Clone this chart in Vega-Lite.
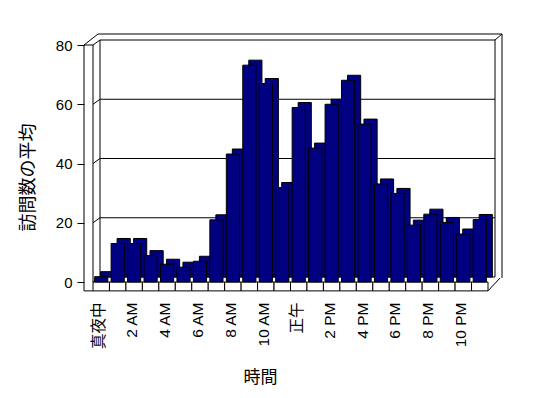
{
  "$schema": "https://vega.github.io/schema/vega-lite/v6.json",
  "width": 395,
  "height": 237,
  "autosize": {"type": "none"},
  "padding": {"left": 93, "top": 45, "right": 60, "bottom": 116},
  "background": "white",
  "config": {
    "view": {"stroke": null},
    "font": "Liberation Sans",
    "axis": {"labelColor": "black", "titleColor": "black", "labelFont": "Liberation Sans, Noto Sans CJK JP", "titleFont": "Noto Sans CJK JP", "titleFontWeight": "normal"}
  },
  "datasets": {
    "visits": [
      {"label": "真夜中", "avg": 1.8},
      {"label": "1 AM", "avg": 13.0},
      {"label": "2 AM", "avg": 13.0},
      {"label": "3 AM", "avg": 8.9},
      {"label": "4 AM", "avg": 6.0},
      {"label": "5 AM", "avg": 5.0},
      {"label": "6 AM", "avg": 7.0},
      {"label": "7 AM", "avg": 21.0},
      {"label": "8 AM", "avg": 43.2},
      {"label": "9 AM", "avg": 73.2},
      {"label": "10 AM", "avg": 67.0},
      {"label": "11 AM", "avg": 31.9},
      {"label": "正午", "avg": 58.9},
      {"label": "1 PM", "avg": 45.2},
      {"label": "2 PM", "avg": 60.0},
      {"label": "3 PM", "avg": 68.1},
      {"label": "4 PM", "avg": 53.3},
      {"label": "5 PM", "avg": 33.1},
      {"label": "6 PM", "avg": 29.9},
      {"label": "7 PM", "avg": 19.2},
      {"label": "8 PM", "avg": 22.9},
      {"label": "9 PM", "avg": 20.1},
      {"label": "10 PM", "avg": 16.2},
      {"label": "11 PM", "avg": 21.1}
    ],
    "grid": [{"g": 0}, {"g": 20}, {"g": 40}, {"g": 60}, {"g": 80}],
    "one": [{"k": 1}]
  },
  "layer": [
    {
      "data": {"name": "visits"},
      "mark": {"type": "bar", "fill": "white", "stroke": "black", "strokeWidth": 1},
      "encoding": {
        "x": {
          "field": "label", "type": "nominal", "sort": null,
          "scale": {"domain": ["真夜中","1 AM","2 AM","3 AM","4 AM","5 AM","6 AM","7 AM","8 AM","9 AM","10 AM","11 AM","正午","1 PM","2 PM","3 PM","4 PM","5 PM","6 PM","7 PM","8 PM","9 PM","10 PM","11 PM"], "paddingInner": 0, "paddingOuter": 0},
          "axis": {
            "title": "時間", "titleFontSize": 17, "titleX": 167, "titleY": 95, "titleAlign": "center", "titleBaseline": "middle",
            "values": ["真夜中","2 AM","4 AM","6 AM","8 AM","10 AM","正午","2 PM","4 PM","6 PM","8 PM","10 PM"],
            "labelAngle": -90, "labelFontSize": 15.5, "labelPadding": 20, "labelOffset": -2,
            "domain": false, "ticks": false, "grid": false
          }
        },
        "y": {
          "datum": 0, "type": "quantitative",
          "scale": {"domain": [0, 80], "nice": false},
          "axis": {
            "title": "訪問数の平均", "titleFontSize": 18, "titleX": -56, "titleY": 132, "titleAngle": -90, "titleAlign": "center", "titleBaseline": "middle",
            "values": [0, 20, 40, 60, 80], "labelFontSize": 15, "labelPadding": 5,
            "offset": 9, "tickSize": 7, "tickColor": "black", "domain": false, "grid": false
          }
        },
        "y2": {"datum": -3}
      }
    },
    {
      "data": {"name": "grid"},
      "mark": {"type": "rule", "color": "black", "strokeWidth": 1, "xOffset": 7, "x2Offset": 7, "yOffset": -5},
      "encoding": {
        "x": {"datum": "真夜中", "bandPosition": 0},
        "x2": {"datum": "11 PM", "bandPosition": 1},
        "y": {"field": "g", "type": "quantitative"}
      }
    },
    {
      "data": {"name": "grid"},
      "mark": {"type": "rule", "color": "black", "strokeWidth": 1, "x2Offset": 7, "y2Offset": -5},
      "encoding": {
        "x": {"datum": "真夜中", "bandPosition": 0},
        "x2": {"datum": "真夜中", "bandPosition": 0},
        "y": {"field": "g", "type": "quantitative"},
        "y2": {"field": "g"}
      }
    },
    {
      "data": {"name": "one"},
      "mark": {"type": "rule", "color": "black", "strokeWidth": 1, "xOffset": 7, "yOffset": -5, "y2Offset": -5},
      "encoding": {"x": {"datum": "真夜中", "bandPosition": 0}, "y": {"datum": 0}, "y2": {"datum": 80}}
    },
    {
      "data": {"name": "one"},
      "mark": {"type": "rule", "color": "black", "strokeWidth": 1, "xOffset": 7, "yOffset": -5, "y2Offset": -5},
      "encoding": {"x": {"datum": "11 PM", "bandPosition": 1}, "y": {"datum": 0}, "y2": {"datum": 80}}
    },
    {
      "data": {"name": "one"},
      "mark": {"type": "rule", "color": "black", "strokeWidth": 1},
      "encoding": {"x": {"datum": "真夜中", "bandPosition": 0}, "y": {"datum": 0}, "y2": {"datum": 80}}
    },
    {
      "data": {"name": "one"},
      "mark": {"type": "rule", "color": "black", "strokeWidth": 1, "xOffset": -9},
      "encoding": {"x": {"datum": "真夜中", "bandPosition": 0}, "y": {"datum": -3}, "y2": {"datum": 80}}
    },
    {
      "data": {"name": "one"},
      "mark": {"type": "rule", "color": "black", "strokeWidth": 1, "xOffset": 14, "yOffset": -4, "y2Offset": -11},
      "encoding": {"x": {"datum": "11 PM", "bandPosition": 1}, "y": {"datum": 0}, "y2": {"datum": 80}}
    },
    {
      "data": {"name": "one"},
      "mark": {"type": "rule", "color": "black", "strokeWidth": 1, "xOffset": 5, "x2Offset": 14, "yOffset": -11},
      "encoding": {"x": {"datum": "真夜中", "bandPosition": 0}, "x2": {"datum": "11 PM", "bandPosition": 1}, "y": {"datum": 80}}
    },
    {
      "data": {"name": "one"},
      "mark": {"type": "rule", "color": "black", "strokeWidth": 1, "xOffset": -9, "x2Offset": 5, "y2Offset": -11},
      "encoding": {"x": {"datum": "真夜中", "bandPosition": 0}, "x2": {"datum": "真夜中", "bandPosition": 0}, "y": {"datum": 80}, "y2": {"datum": 80}}
    },
    {
      "data": {"name": "one"},
      "mark": {"type": "rule", "color": "black", "strokeWidth": 1, "xOffset": -9},
      "encoding": {"x": {"datum": "真夜中", "bandPosition": 0}, "x2": {"datum": "真夜中", "bandPosition": 0}, "y": {"datum": 80}}
    },
    {
      "data": {"name": "one"},
      "mark": {"type": "rule", "color": "black", "strokeWidth": 1, "xOffset": 7, "x2Offset": 14, "yOffset": -5, "y2Offset": -11},
      "encoding": {"x": {"datum": "11 PM", "bandPosition": 1}, "x2": {"datum": "11 PM", "bandPosition": 1}, "y": {"datum": 80}, "y2": {"datum": 80}}
    },
    {
      "data": {"name": "one"},
      "mark": {"type": "rule", "color": "black", "strokeWidth": 1, "xOffset": -9},
      "encoding": {"x": {"datum": "真夜中", "bandPosition": 0}, "x2": {"datum": "真夜中", "bandPosition": 0}, "y": {"datum": -3}}
    },
    {
      "data": {"name": "one"},
      "mark": {"type": "rule", "color": "black", "strokeWidth": 1, "x2Offset": 12, "y2Offset": -4},
      "encoding": {"x": {"datum": "11 PM", "bandPosition": 1}, "x2": {"datum": "11 PM", "bandPosition": 1}, "y": {"datum": -3}, "y2": {"datum": 0}}
    },
    {
      "data": {"name": "visits"},
      "mark": {"type": "bar", "fill": "#000080", "stroke": "black", "strokeWidth": 1, "width": {"band": 0.8}, "xOffset": 6, "yOffset": -5, "y2Offset": -5},
      "encoding": {"x": {"field": "label", "type": "nominal"}, "y": {"field": "avg", "type": "quantitative"}, "y2": {"datum": 0}}
    },
    {
      "data": {"name": "visits"},
      "mark": {"type": "bar", "fill": "#000080", "stroke": "black", "strokeWidth": 1, "width": {"band": 0.8}},
      "encoding": {"x": {"field": "label", "type": "nominal"}, "y": {"field": "avg", "type": "quantitative"}, "y2": {"datum": 0}}
    }
  ]
}
